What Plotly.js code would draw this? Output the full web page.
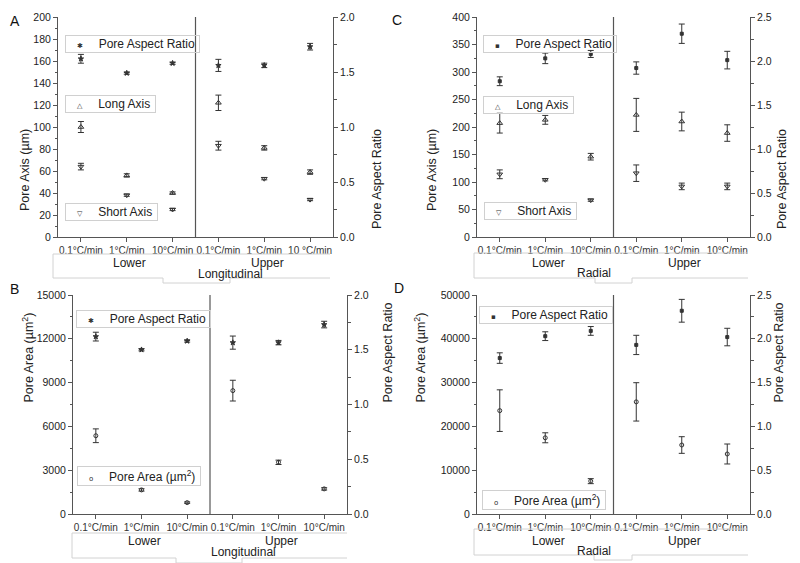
<!DOCTYPE html>
<html><head><meta charset="utf-8">
<script src="https://cdn.plot.ly/plotly-3.0.1.min.js"></script>
<style>html,body{margin:0;padding:0;background:#fff}</style>
</head><body><div id="chart" style="width:800px;height:563px"></div>
<script>
// ---------- DATA ----------
const groups = ['Lower','Lower','Lower','Upper','Upper','Upper'];
const ratesA = ['0.1°C/min','1°C/min','10°C/min','0.1°C/min','1°C/min','10 °C/min'];
const ratesB = ['0.1°C/min','1°C/min','10°C/min','0.1°C/min','1°C/min','10°C/min'];
const sectionAB = 'Longitudinal';
const sectionCD = 'Radial';

// Panel A (Longitudinal): pore axes (µm) and aspect ratio
const aspectA = [1.62, 1.49, 1.58, 1.56, 1.56, 1.73];
const aspectAErr = [0.04, 0.01, 0.01, 0.055, 0.02, 0.03];
const longA = [100, 56, 40, 122, 81, 59];
const longAErr = [5, 1.5, 1, 7, 2, 2];
const shortA = [64, 38, 25, 83, 53, 34];
const shortAErr = [3, 1, 1, 4, 1, 1];

// Panel B (Longitudinal): pore area (µm²) and aspect ratio
const aspectB = [1.62, 1.50, 1.58, 1.565, 1.565, 1.73];
const aspectBErr = [0.04, 0.01, 0.01, 0.06, 0.02, 0.03];
const areaB = [5360, 1650, 780, 8450, 3540, 1720];
const areaBErr = [470, 80, 50, 710, 150, 80];

// Panel C (Radial): pore axes (µm) and aspect ratio
const aspectC = [1.77, 2.03, 2.08, 1.92, 2.31, 2.01];
const aspectCErr = [0.05, 0.06, 0.04, 0.07, 0.11, 0.10];
const longC = [207, 213, 146, 222, 210, 189];
const longCErr = [18, 8, 6, 30, 17, 15];
const shortC = [114, 104, 67, 116, 92, 92];
const shortCErr = [8, 2, 2, 15, 6, 6];

// Panel D (Radial): pore area (µm²) and aspect ratio
const aspectD = [1.78, 2.03, 2.09, 1.93, 2.32, 2.02];
const aspectDErr = [0.06, 0.05, 0.05, 0.11, 0.13, 0.10];
const areaD = [23600, 17400, 7500, 25600, 15750, 13700];
const areaDErr = [4750, 1140, 570, 4380, 1900, 2280];

// ---------- BUILD ----------
const W = 800, H = 563;
const px = v => v / W;
const py = v => 1 - v / H;
const cats = groups.map((g, i) => g + ' ' + i);
const INK = '#333';
const AX = '#555';
const FONT = 'Liberation Sans, Arial, sans-serif';

function trace(xa, ya, y, err, symbol, size, name) {
  return {
    type: 'scatter', mode: 'markers', name: name, showlegend: false,
    x: cats, y: y, xaxis: xa, yaxis: ya,
    marker: {symbol: symbol, size: size, color: INK, line: {color: INK, width: 1}},
    error_y: {type: 'data', array: err, visible: true, color: INK, thickness: 1, width: 3},
    cliponaxis: false
  };
}

const data = [
  trace('x', 'y2', aspectA, aspectAErr, 'star', 4, 'Pore Aspect Ratio'),
  trace('x', 'y', longA, longAErr, 'triangle-up-open', 5, 'Long Axis'),
  trace('x', 'y', shortA, shortAErr, 'triangle-down-open', 5, 'Short Axis'),
  trace('x2', 'y4', aspectB, aspectBErr, 'star', 4, 'Pore Aspect Ratio'),
  trace('x2', 'y3', areaB, areaBErr, 'circle-open', 4, 'Pore Area (µm²)'),
  trace('x3', 'y6', aspectC, aspectCErr, 'square', 3, 'Pore Aspect Ratio'),
  trace('x3', 'y5', longC, longCErr, 'triangle-up-open', 5, 'Long Axis'),
  trace('x3', 'y5', shortC, shortCErr, 'triangle-down-open', 5, 'Short Axis'),
  trace('x4', 'y8', aspectD, aspectDErr, 'square', 3, 'Pore Aspect Ratio'),
  trace('x4', 'y7', areaD, areaDErr, 'circle-open', 4, 'Pore Area (µm²)')
];

const panels = [
  {letter:'A', letterPos:[8,11], xa:'x', xt:'x5', yl:'y', yr:'y2', box:[58,333,17,237], ticks:ratesA,
   left:{range:[0,200], dtick:20, minor:10}, right:{range:[0,2], dtick:0.5, minor:0.25},
   ltitle:'Pore Axis (µm)', ltx:16, rtx:377,
   table:{top:254, bot:278, left:53, right:330, gap:[163,230], lab:196, laby:274, gy:263}, section:sectionAB,
   legends:[{t:'Pore Aspect Ratio', sym:'✱', l:65, cy:43.5},
            {t:'Long Axis', sym:'△', l:65, cy:104},
            {t:'Short Axis', sym:'▽', l:65, cy:211.5}]},
  {letter:'B', letterPos:[8,289], xa:'x2', xt:'x6', yl:'y3', yr:'y4', box:[73,347,295,514], ticks:ratesB,
   left:{range:[0,15000], dtick:3000, minor:1500}, right:{range:[0,2], dtick:0.5, minor:0.25},
   ltitle:'Pore Area (µm<sup>2</sup>)', ltx:17, rtx:387,
   table:{top:533, bot:558, left:72, right:347, gap:[176,242], lab:209, laby:552, gy:541}, section:sectionAB,
   legends:[{t:'Pore Aspect Ratio', sym:'✱', l:76, cy:319},
            {t:'Pore Area (µm<sup>2</sup>)', sym:'o', l:77, cy:475.5}]},
  {letter:'C', letterPos:[397,10], xa:'x3', xt:'x7', yl:'y5', yr:'y6', box:[477,750,17,237], ticks:ratesB,
   left:{range:[0,400], dtick:50, minor:25}, right:{range:[0,2.5], dtick:0.5, minor:0.25},
   ltitle:'Pore Axis (µm)', ltx:432, rtx:791,
   table:{top:253, bot:278, left:474, right:748, gap:[595,632], lab:613, laby:273, gy:263}, section:sectionCD,
   legends:[{t:'Pore Aspect Ratio', sym:'▪', l:483, cy:43.5},
            {t:'Long Axis', sym:'△', l:483, cy:105},
            {t:'Short Axis', sym:'▽', l:484, cy:210.5}]},
  {letter:'D', letterPos:[399,288], xa:'x4', xt:'x8', yl:'y7', yr:'y8', box:[477,750,295,514], ticks:ratesB,
   left:{range:[0,50000], dtick:10000, minor:5000}, right:{range:[0,2.5], dtick:0.5, minor:0.25},
   ltitle:'Pore Area (µm<sup>2</sup>)', ltx:419, rtx:787,
   table:{top:529, bot:555, left:474, right:748, gap:[594,632], lab:613, laby:551, gy:541}, section:sectionCD,
   legends:[{t:'Pore Aspect Ratio', sym:'▪', l:479, cy:315},
            {t:'Pore Area (µm<sup>2</sup>)', sym:'o', l:482, cy:499.5}]}
];

const axName = id => (id[0] === 'x' ? 'xaxis' : 'yaxis') + id.slice(1);

const layout = {
  width: W, height: H,
  margin: {l:0, r:0, t:0, b:0, pad:0},
  paper_bgcolor: '#fff', plot_bgcolor: '#fff',
  font: {family: FONT, color: '#222', size: 11},
  showlegend: false,
  shapes: [], annotations: []
};

const nb = n => '\u00a0'.repeat(n);

panels.forEach(p => {
  const [l, r, t, b] = p.box;
  const xd = [px(l), px(r)], yd = [py(b), py(t)];
  layout[axName(p.xa)] = {
    domain: xd, anchor: p.yl, type: 'category', range: [-0.5, 5.5],
    tickvals: cats, ticktext: p.ticks, ticks: 'outside', ticklen: 4, tickcolor: AX,
    showline: true, linecolor: AX, linewidth: 1, showgrid: false, zeroline: false,
    tickfont: {size: 10, color: '#333', family: FONT}, fixedrange: true
  };
  layout[axName(p.xt)] = {
    overlaying: p.xa, side: 'top', anchor: p.yl, range: [-0.5, 5.5],
    tickvals: [0,1,2,3,4,5], ticks: 'inside', ticklen: 3, tickcolor: AX,
    showticklabels: false, showline: true, linecolor: AX, linewidth: 1,
    showgrid: false, zeroline: false
  };
  layout[axName(p.yl)] = {
    domain: yd, anchor: p.xa, range: p.left.range, tick0: 0, dtick: p.left.dtick,
    tickformat: 'd', exponentformat: 'none', separatethousands: false,
    ticks: 'outside', ticklen: 4, tickcolor: AX,
    minor: {dtick: p.left.minor, tick0: 0, ticks: 'outside', ticklen: 2.5, tickcolor: AX, showgrid: false},
    showline: true, linecolor: AX, linewidth: 1, showgrid: false, zeroline: false,
    tickfont: {size: 10.5, color: '#222', family: FONT}
  };
  layout[axName(p.yr)] = {
    overlaying: p.yl, side: 'right', anchor: p.xa, range: p.right.range, tick0: 0, dtick: p.right.dtick,
    tickformat: '.1f',
    ticks: 'outside', ticklen: 4, tickcolor: AX,
    minor: {dtick: p.right.minor, tick0: 0, ticks: 'outside', ticklen: 2.5, tickcolor: AX, showgrid: false},
    showline: true, linecolor: AX, linewidth: 1, showgrid: false, zeroline: false,
    tickfont: {size: 10.5, color: '#222', family: FONT}
  };
  // divider between Lower and Upper
  layout.shapes.push({type: 'line', xref: p.xa, yref: p.yl + ' domain', x0: 2.5, x1: 2.5, y0: 0, y1: 1,
    line: {color: AX, width: 1.2}});
  // grouping table under the axis
  const T = p.table, lc = {color: '#d2d2d2', width: 1};
  const seg = (x0, y0, x1, y1) => layout.shapes.push({type: 'line', xref: 'paper', yref: 'paper',
    x0: px(x0), y0: py(y0), x1: px(x1), y1: py(y1), line: lc});
  seg(T.left, T.top, T.right, T.top);
  seg(T.left, T.top, T.left, T.bot);
  seg(T.left, T.bot, T.gap[0], T.bot);
  seg(T.gap[0], T.bot, T.gap[0], T.bot + 5);
  seg(T.gap[0], T.bot + 5, T.gap[1], T.bot + 5);
  seg(T.gap[1], T.bot + 5, T.gap[1], T.bot);
  seg(T.gap[1], T.bot, T.right, T.bot);
  layout.annotations.push(
    {text: groups[1], xref: p.xa, x: 1, xshift: 3, yref: 'paper', y: py(T.gy), showarrow: false,
     font: {size: 12, family: FONT, color: '#222'}, yanchor: 'middle'},
    {text: groups[4], xref: p.xa, x: 4, xshift: 3, yref: 'paper', y: py(T.gy), showarrow: false,
     font: {size: 12, family: FONT, color: '#222'}, yanchor: 'middle'},
    {text: p.section, xref: 'paper', x: px(T.lab), yref: 'paper', y: py(T.laby), showarrow: false,
     font: {size: 12, family: FONT, color: '#222'}, yanchor: 'middle'},
    // panel letter
    {text: p.letter, xref: 'paper', yref: 'paper', x: px(p.letterPos[0]), y: py(p.letterPos[1]),
     showarrow: false, font: {size: 14, family: FONT, color: '#111'}},
    // axis titles
    {text: p.ltitle, textangle: -90, xref: 'paper', yref: 'paper', x: px(p.ltx), y: py((t + b) / 2),
     showarrow: false, font: {size: 12.5, family: FONT, color: '#222'}},
    {text: 'Pore Aspect Ratio', textangle: -90, xref: 'paper', yref: 'paper', x: px(p.rtx), y: py((t + b) / 2),
     showarrow: false, font: {size: 12.5, family: FONT, color: '#222'}}
  );
  // legend boxes (symbol + label in one bordered text box)
  p.legends.forEach(g => {
    layout.annotations.push(
      {text: nb(3) + '<span style="font-size:7px;font-family:DejaVu Sans;color:#333">' + g.sym + '</span>' + nb(4) + '\u2009' + g.t + nb(1),
       xref: 'paper', yref: 'paper', x: px(g.l), y: py(g.cy),
       xanchor: 'left', yanchor: 'middle', align: 'left', showarrow: false,
       bordercolor: '#d0d0d0', borderwidth: 1, borderpad: 1, bgcolor: 'rgba(255,255,255,0)',
       font: {size: 12, family: FONT, color: '#222'}}
    );
  });
});

Plotly.newPlot('chart', data, layout, {staticPlot: true, displayModeBar: false});
</script>
</body></html>
